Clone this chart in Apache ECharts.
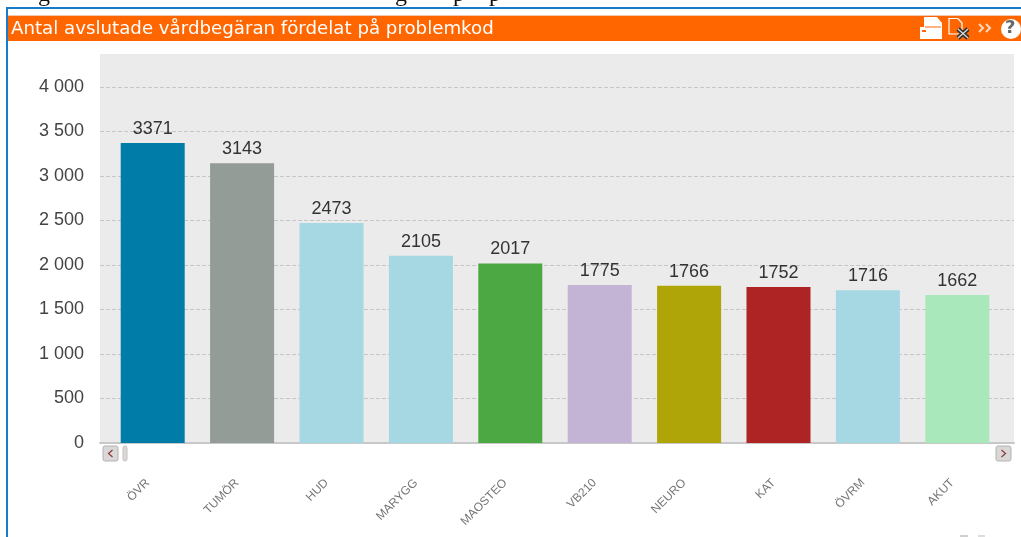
<!DOCTYPE html>
<html><head><meta charset="utf-8">
<style>html,body{margin:0;padding:0;background:#fff}#c{width:1021px;height:537px}</style>
<script src="https://cdn.jsdelivr.net/npm/echarts@6/dist/echarts.min.js"></script></head>
<body><div id="c"></div>
<script>
const categories=['ÖVR','TUMÖR','HUD','MARYGG','MAOSTEO','VB210','NEURO','KAT','ÖVRM','AKUT'];
const values=[3371,3143,2473,2105,2017,1775,1766,1752,1716,1662];
const barColors=['#007CA8','#939C96','#A6D8E4','#A6D8E4','#4CA842','#C3B4D6','#B0A508','#AE2323','#A6D8E4','#A9E8BB'];
const titleText='Antal avslutade vårdbegäran fördelat på problemkod';
const yMax=4000, yStep=500;
const sans='"Liberation Sans",Arial,sans-serif';
const chart=echarts.init(document.getElementById('c'),null,{renderer:'canvas'});
const btn=(x)=>({type:'rect',shape:{x:x,y:446,width:15,height:15,r:2},style:{fill:'#DAD7D7',stroke:'#B5B2B2',lineWidth:1}});
const chev=(pts)=>({type:'polyline',shape:{points:pts},style:{stroke:'#8A3A3A',lineWidth:1.2,fill:null}});
const line=(pts,c,w)=>({type:'polyline',shape:{points:pts},style:{stroke:c,lineWidth:w,fill:null}});
chart.setOption({
  animation:false,
  backgroundColor:'#fff',
  graphic:[
    {type:'rect',z:-1,shape:{x:100,y:54,width:914,height:389},style:{fill:'#EBEBEB'}},
    {type:'rect',shape:{x:8,y:15,width:1013,height:26},style:{fill:'#F2C8B0'}},
    {type:'rect',shape:{x:8,y:16,width:1013,height:25},style:{fill:'#FF6600'}},
    {type:'rect',shape:{x:6,y:7,width:1015,height:2},style:{fill:'#1A7CC8'}},
    {type:'rect',shape:{x:6,y:7,width:2,height:530},style:{fill:'#1A7CC8'}},
    {type:'text',x:11,y:21,scaleX:1.07,style:{text:titleText,fill:'#fff',font:'17px "DejaVu Sans"'}},
    {type:'text',x:38,y:-17,style:{text:'g',fill:'#111',font:'24px "Liberation Serif"'}},
    {type:'text',x:395,y:-17,style:{text:'g',fill:'#111',font:'24px "Liberation Serif"'}},
    {type:'text',x:453,y:-17,style:{text:'p',fill:'#111',font:'24px "Liberation Serif"'}},
    {type:'text',x:489,y:-17,style:{text:'p',fill:'#111',font:'24px "Liberation Serif"'}},
    // printer icon
    {type:'polygon',shape:{points:[[924,17],[937,17],[942,23],[942,39],[920,39],[920,27],[924,27]]},style:{fill:'#fff'}},
    {type:'rect',shape:{x:922,y:30,width:4,height:2},style:{fill:'#FF6600'}},
    line([[925,27],[941,27]],'#FF6600',1),
    // excel icon
    {type:'polygon',shape:{points:[[949,18.5],[958,18.5],[962,23],[962,34],[949,34]]},style:{fill:'#FF6600',stroke:'#fff',lineWidth:1.2}},
    line([[958,29],[968,38]],'#333',4.5),
    line([[968,29],[958,38]],'#333',4.5),
    line([[958,29],[968,38]],'#ddd',1.2),
    line([[968,29],[958,38]],'#ddd',1.2),
    line([[979,24],[983,28],[979,32]],'#F8D9C0',2),
    line([[986,24],[990,28],[986,32]],'#F8D9C0',2),
    {type:'circle',shape:{cx:1011,cy:29,r:10},style:{fill:'#fff'}},
    {type:'text',x:1005,y:19,style:{text:'?',fill:'#666',font:'bold 18px "DejaVu Sans"'}},
    // scroll bar
    btn(103),
    chev([[112.5,450],[108.5,453.5],[112.5,457]]),
    {type:'rect',shape:{x:123,y:446,width:4,height:15,r:2},style:{fill:'#DAD7D7',stroke:'#C4C2C2',lineWidth:1}},
    btn(996),
    chev([[1001.5,450],[1005.5,453.5],[1001.5,457]]),
    {type:'rect',shape:{x:960,y:535,width:8,height:2},style:{fill:'#CFCFCF'}},
    {type:'rect',shape:{x:978,y:535,width:7,height:2},style:{fill:'#DDDDDD'}}
  ],
  grid:[
    {left:100,top:87,width:914,height:356},
    {left:108,top:87,width:894,height:356}
  ],
  xAxis:[
    {gridIndex:0,type:'value',min:0,max:1,axisLabel:{show:false},axisTick:{show:false},splitLine:{show:false},
     axisLine:{show:true,onZero:false,lineStyle:{color:'#C8C8C8',width:2}}},
    {gridIndex:1,type:'category',data:categories,axisTick:{show:false},axisLine:{show:false},
     axisLabel:{interval:0,rotate:45,margin:33,padding:[0,7,0,0],fontSize:12,fontFamily:sans,color:'#777'}}
  ],
  yAxis:[
    {gridIndex:0,type:'value',min:0,max:yMax,interval:yStep,
     axisLine:{show:false},axisTick:{show:false},
     axisLabel:{margin:16,padding:[3,0,0,0],fontSize:18,fontFamily:sans,color:'#444',
       formatter:v=>String(v).replace(/\B(?=(\d{3})+$)/g,' ')},
     splitLine:{show:true,lineStyle:{type:'dashed',color:'#C6C6C6',width:1}}},
    {gridIndex:1,type:'value',min:0,max:yMax,interval:yStep,show:false,splitLine:{show:false}}
  ],
  series:[{
    type:'bar',xAxisIndex:1,yAxisIndex:1,barWidth:64,
    data:values.map((v,i)=>({value:v,itemStyle:{color:barColors[i]}})),
    label:{show:true,position:'top',distance:5,fontSize:18,fontFamily:sans,color:'#333'}
  }]
});
</script></body></html>
